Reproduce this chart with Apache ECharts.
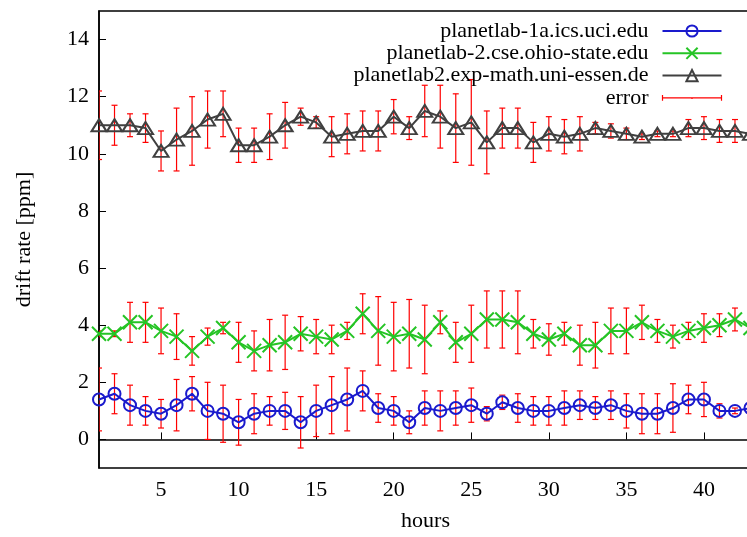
<!DOCTYPE html>
<html>
<head>
<meta charset="utf-8">
<script src="https://cdn.jsdelivr.net/npm/echarts@6/dist/echarts.min.js"></script>
<style>
  html, body { margin: 0; padding: 0; background: #fff; }
  #chart { width: 747px; height: 537px; }
</style>
</head>
<body>
<div id="chart"></div>
<script>
// hours of measurement
var hours = [1, 2, 3, 4, 5, 6, 7, 8, 9, 10, 11, 12, 13, 14, 15, 16, 17, 18, 19, 20, 21,
  22, 23, 24, 25, 26, 27, 28, 29, 30, 31, 32, 33, 34, 35, 36, 37, 38, 39, 40, 41, 42, 43]

// drift rate [ppm] per host, and error (+/-)
var uciDrift = [1.4, 1.6, 1.2, 1.0, 0.9, 1.2, 1.6, 1.0, 0.9, 0.6, 0.9, 1.0, 1.0, 0.6, 1.0, 1.2, 1.4, 1.7, 1.1, 1.0, 0.6,
  1.1, 1.0, 1.1, 1.2, 0.9, 1.3, 1.1, 1.0, 1.0, 1.1, 1.2, 1.1, 1.2, 1.0, 0.9, 0.9, 1.1, 1.4, 1.4, 1.0, 1.0, 1.1]
var uciErr = [1.1, 0.7, 0.7, 0.5, 0.5, 0.9, 0.6, 1.0, 1.0, 0.8, 0.7, 0.5, 0.65, 0.9, 0.9, 1.0, 1.1, 0.7, 0.5, 0.5, 0.4,
  0.6, 0.7, 0.6, 0.6, 0.25, 0.25, 0.5, 0.5, 0.5, 0.6, 0.5, 0.4, 0.5, 0.6, 0.7, 0.7, 0.85, 0.5, 0.6, 0.25, 0.1, 0.1]

var osuDrift = [3.7, 3.7, 4.1, 4.1, 3.8, 3.6, 3.1, 3.6, 3.9, 3.4, 3.1, 3.3, 3.4, 3.7, 3.6, 3.5, 3.8, 4.4, 3.8, 3.6, 3.7,
  3.5, 4.1, 3.4, 3.7, 4.2, 4.2, 4.1, 3.7, 3.5, 3.7, 3.3, 3.3, 3.8, 3.8, 4.1, 3.8, 3.6, 3.8, 3.9, 4.0, 4.2, 3.9]
var osuErr = [0.1, 0.1, 0.7, 0.7, 0.8, 0.8, 0.5, 0.3, 0.2, 0.7, 0.7, 0.9, 0.95, 0.6, 0.6, 0.5, 0.3, 0.7, 1.2, 1.2, 1.2,
  1.2, 0.4, 0.7, 1.0, 1.0, 1.0, 1.1, 0.5, 0.55, 0.4, 0.7, 0.8, 0.8, 0.8, 0.6, 0.4, 0.4, 0.3, 0.5, 0.4, 0.4, 0.3]

var essenDrift = [11.0, 11.0, 11.0, 10.9, 10.1, 10.5, 10.8, 11.2, 11.4, 10.3, 10.3, 10.6, 11.0, 11.3, 11.1, 10.6, 10.7, 10.8, 10.8, 11.3, 10.9,
  11.5, 11.3, 10.9, 11.1, 10.4, 10.9, 10.9, 10.4, 10.7, 10.6, 10.7, 10.9, 10.8, 10.7, 10.6, 10.7, 10.7, 10.9, 10.9, 10.8, 10.8, 10.7]
var essenErr = [1.2, 0.7, 0.4, 0.5, 0.7, 1.1, 1.2, 1.0, 0.8, 0.6, 0.6, 0.8, 0.8, 0.3, 0.2, 0.7, 0.7, 0.7, 0.7, 0.6, 0.4,
  0.9, 1.1, 1.2, 1.5, 1.1, 0.7, 0.7, 0.7, 0.6, 0.6, 0.6, 0.2, 0.25, 0.2, 0.1, 0.1, 0.1, 0.3, 0.4, 0.4, 0.4, 0.3]

var xTicks = [5, 10, 15, 20, 25, 30, 35, 40]
var yTicks = [0, 2, 4, 6, 8, 10, 12, 14]

var font = '"Liberation Serif", "Times New Roman", serif'

function pairs(vals) {
  return hours.map(function (h, i) { return [h, vals[i]] })
}

// [hour, low, high] for every point of every host
var errData = []
;[[uciDrift, uciErr], [osuDrift, osuErr], [essenDrift, essenErr]].forEach(function (s) {
  hours.forEach(function (h, i) {
    errData.push([h, s[0][i] - s[1][i], s[0][i] + s[1][i]])
  })
})

var chart = echarts.init(document.getElementById('chart'))

chart.setOption({
  animation: false,
  backgroundColor: '#fff',
  grid: {
    left: 99,
    right: -19,
    top: 11,
    bottom: 69,
    outerBoundsMode: 'none',
    containLabel: false,
    show: true,
    borderColor: '#000',
    borderWidth: 1.5
  },
  legend: {
    orient: 'vertical',
    align: 'right',
    right: 23,
    top: 20,
    padding: 0,
    itemWidth: 59,
    itemHeight: 14,
    itemGap: 0.3,
    textStyle: { fontFamily: font, fontSize: 22, color: '#000', lineHeight: 21, padding: [0, 9, 0, 0] },
    data: [
      { name: 'planetlab-1a.ics.uci.edu' },
      { name: 'planetlab-2.cse.ohio-state.edu' },
      { name: 'planetlab2.exp-math.uni-essen.de' },
      {
        name: 'error',
        icon: 'path://M0,0L0,0M0,4L0,10M0,7L60,7M60,4L60,10M30,7L30,8M60,14L60,14',
        itemStyle: { color: 'none', borderColor: '#ff0000', borderWidth: 1.2 }
      }
    ]
  },
  xAxis: {
    type: 'value',
    min: 1,
    max: 44,
    name: 'hours',
    nameLocation: 'middle',
    nameGap: 42,
    nameTextStyle: { fontFamily: font, fontSize: 22, color: '#000', padding: [0, 14, 0, 0] },
    axisLine: { lineStyle: { color: '#000', width: 1.5 } },
    axisTick: { inside: true, length: 7, customValues: xTicks, lineStyle: { color: '#000' } },
    axisLabel: { customValues: xTicks, margin: 11, fontFamily: font, fontSize: 22, color: '#000' },
    splitLine: { show: false }
  },
  yAxis: {
    type: 'value',
    min: -1,
    max: 15,
    name: 'drift rate [ppm]',
    nameLocation: 'middle',
    nameGap: 64,
    nameTextStyle: { fontFamily: font, fontSize: 22, color: '#000' },
    axisLine: { show: true, lineStyle: { color: '#000', width: 1.5 } },
    axisTick: { show: true, inside: true, length: 7, customValues: yTicks, lineStyle: { color: '#000' } },
    axisLabel: { customValues: yTicks, margin: 10, fontFamily: font, fontSize: 22, color: '#000' },
    splitLine: { show: false }
  },
  series: [
    {
      name: 'planetlab-1a.ics.uci.edu',
      type: 'line',
      data: pairs(uciDrift),
      symbol: 'circle',
      symbolSize: 12,
      lineStyle: { color: '#1a1acd', width: 2 },
      itemStyle: { color: 'rgba(0,0,0,0)', borderColor: '#1a1acd', borderWidth: 2 }
    },
    {
      name: 'planetlab-2.cse.ohio-state.edu',
      type: 'line',
      data: pairs(osuDrift),
      symbol: 'path://M0,0L10,10M10,0L0,10',
      symbolSize: 14,
      lineStyle: { color: '#25c425', width: 2 },
      itemStyle: { color: 'rgba(0,0,0,0)', borderColor: '#25c425', borderWidth: 2 }
    },
    {
      name: 'planetlab2.exp-math.uni-essen.de',
      type: 'line',
      data: pairs(essenDrift),
      symbol: 'triangle',
      symbolSize: [15, 12],
      lineStyle: { color: '#404040', width: 2 },
      itemStyle: { color: 'rgba(0,0,0,0)', borderColor: '#404040', borderWidth: 2 }
    },
    {
      name: 'error',
      type: 'custom',
      clip: true,
      data: errData,
      encode: { x: 0, y: [1, 2] },
      itemStyle: { color: '#ff0000' },
      renderItem: function (params, api) {
        var x = api.value(0)
        var lo = api.coord([x, api.value(1)])
        var hi = api.coord([x, api.value(2)])
        var w = 3
        var st = { stroke: '#ff0000', lineWidth: 1.2 }
        return {
          type: 'group',
          children: [
            { type: 'line', shape: { x1: lo[0], y1: lo[1], x2: hi[0], y2: hi[1] }, style: st },
            { type: 'line', shape: { x1: lo[0] - w, y1: lo[1], x2: lo[0] + w, y2: lo[1] }, style: st },
            { type: 'line', shape: { x1: hi[0] - w, y1: hi[1], x2: hi[0] + w, y2: hi[1] }, style: st }
          ]
        }
      }
    }
  ]
})
</script>
</body>
</html>
